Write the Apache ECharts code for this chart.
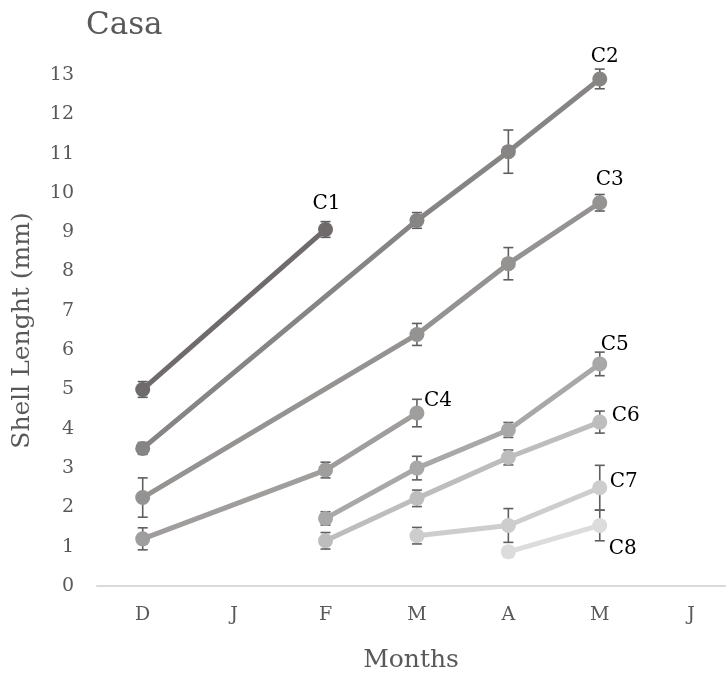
<!DOCTYPE html>
<html>
<head>
<meta charset="utf-8">
<script src="https://cdn.jsdelivr.net/npm/echarts@6/dist/echarts.min.js"></script>
<style>
  html, body { margin: 0; padding: 0; background: #fff; }
  #chart { width: 728px; height: 682px; }
</style>
</head>
<body>
<div id="chart"></div>
<script>
// Month categories (December through June)
const months = ['D', 'J', 'F', 'M', 'A', 'M', 'J'];
const yTicks = [0, 13, 1]; // min, max, step

// Mean shell length (mm) per cohort; null = not sampled
const seriesNames = ['C1', 'C2', 'C3', 'C4', 'C5', 'C6', 'C7', 'C8'];
const c1 = [5.0, null, 9.07, null, null, null, null];
const c2 = [3.5, null, null, 9.3, 11.05, 12.9, null];
const c3 = [2.25, null, null, 6.4, 8.2, 9.75, null];
const c4 = [1.2, null, 2.95, 4.4, null, null, null];
const c5 = [null, null, 1.72, 3.0, 3.97, 5.65, null];
const c6 = [null, null, 1.15, 2.23, 3.27, 4.17, null];
const c7 = [null, null, null, 1.28, 1.54, 2.5, null];
const c8 = [null, null, null, null, 0.87, 1.54, null];

// Standard deviation (mm) for each point
const e1 = [0.2, null, 0.2, null, null, null, null];
const e2 = [0.15, null, null, 0.2, 0.55, 0.25, null];
const e3 = [0.5, null, null, 0.28, 0.41, 0.21, null];
const e4 = [0.28, null, 0.2, 0.35, null, null, null];
const e5 = [null, null, 0.17, 0.3, 0.19, 0.3, null];
const e6 = [null, null, 0.21, 0.21, 0.19, 0.28, null];
const e7 = [null, null, null, 0.21, 0.43, 0.57, null];
const e8 = [null, null, null, null, 0.12, 0.39, null];

const values = [c1, c2, c3, c4, c5, c6, c7, c8];
const errors = [e1, e2, e3, e4, e5, e6, e7, e8];

// Appearance of each cohort line and where its name sits (offset from the point)
const styles = [
  { color: '#6f6b6b', labelAt: 2, offset: [1, -26] },
  { color: '#878484', labelAt: 5, offset: [5, -22] },
  { color: '#959292', labelAt: 5, offset: [10, -23] },
  { color: '#a09d9d', labelAt: 3, offset: [21, -12] },
  { color: '#a8a8a8', labelAt: 5, offset: [15, -19] },
  { color: '#bdbdbd', labelAt: 5, offset: [26, -6] },
  { color: '#cdcdcd', labelAt: 5, offset: [24, -6] },
  { color: '#dcdcdc', labelAt: 5, offset: [23, 23] }
];

const FONT = 'DejaVu Serif';
const series = [];

// Error bars drawn first so the markers sit over them
values.forEach((vals, s) => {
  const pts = [];
  vals.forEach((v, i) => { if (v != null) pts.push([i, v, errors[s][i] || 0]); });
  series.push({
    type: 'custom',
    name: seriesNames[s] + ' sd',
    z: 1,
    silent: true,
    encode: { x: 0, y: 1 },
    data: pts,
    renderItem: function (params, api) {
      const x = api.value(0), y = api.value(1), e = api.value(2);
      const hi = api.coord([x, y + e]);
      const lo = api.coord([x, y - e]);
      const cap = 5;
      const st = { stroke: '#5f5f5f', lineWidth: 1.6 };
      return {
        type: 'group',
        children: [
          { type: 'line', shape: { x1: hi[0], y1: hi[1], x2: lo[0], y2: lo[1] }, style: st },
          { type: 'line', shape: { x1: hi[0] - cap, y1: hi[1], x2: hi[0] + cap, y2: hi[1] }, style: st },
          { type: 'line', shape: { x1: lo[0] - cap, y1: lo[1], x2: lo[0] + cap, y2: lo[1] }, style: st }
        ]
      };
    }
  });
});

values.forEach((vals, s) => {
  const st = styles[s];
  const data = [];
  vals.forEach((v, i) => {
    if (v == null) return;
    const item = { value: [i, v] };
    if (i === st.labelAt) {
      item.label = {
        show: true,
        position: 'inside',
        offset: st.offset,
        formatter: seriesNames[s],
        color: '#000',
        fontFamily: FONT,
        fontSize: 20
      };
    }
    data.push(item);
  });
  series.push({
    type: 'line',
    name: seriesNames[s],
    z: 3,
    data: data,
    symbol: 'circle',
    symbolSize: 15,
    showSymbol: true,
    lineStyle: { color: st.color, width: 5 },
    itemStyle: { color: st.color },
    emphasis: { disabled: true },
    animation: false
  });
});

const chart = echarts.init(document.getElementById('chart'));
chart.setOption({
  animation: false,
  backgroundColor: '#ffffff',
  title: {
    text: 'Casa',
    left: 81,
    top: 5,
    textStyle: { fontFamily: FONT, fontSize: 31, fontWeight: 'normal', color: '#595959' }
  },
  grid: { left: 97, top: 75, right: 0, height: 511, containLabel: false },
  xAxis: {
    // month slots sit at whole numbers, half a slot of padding on the left
    type: 'value',
    min: -0.5,
    max: 6.37,
    minInterval: 1,
    maxInterval: 1,
    name: 'Months',
    nameLocation: 'middle',
    nameGap: 62,
    nameTextStyle: { fontFamily: FONT, fontSize: 25, color: '#595959' },
    axisLine: { lineStyle: { color: '#d9d9d9', width: 2 } },
    axisTick: { show: false },
    splitLine: { show: false },
    axisLabel: {
      margin: 20,
      fontFamily: FONT,
      fontSize: 19,
      color: '#595959',
      showMinLabel: true,
      showMaxLabel: true,
      formatter: function (v) {
        return Number.isInteger(v) && months[v] !== undefined ? months[Math.abs(v)] : '';
      }
    }
  },
  yAxis: {
    type: 'value',
    min: yTicks[0],
    max: yTicks[1],
    interval: yTicks[2],
    name: 'Shell Lenght (mm)',
    nameLocation: 'middle',
    nameGap: 62,
    nameTextStyle: { fontFamily: FONT, fontSize: 25, color: '#595959' },
    axisLine: { show: false },
    axisTick: { show: false },
    splitLine: { show: false },
    axisLabel: { margin: 23, fontFamily: FONT, fontSize: 19, color: '#595959' }
  },
  series: series
});
</script>
</body>
</html>
